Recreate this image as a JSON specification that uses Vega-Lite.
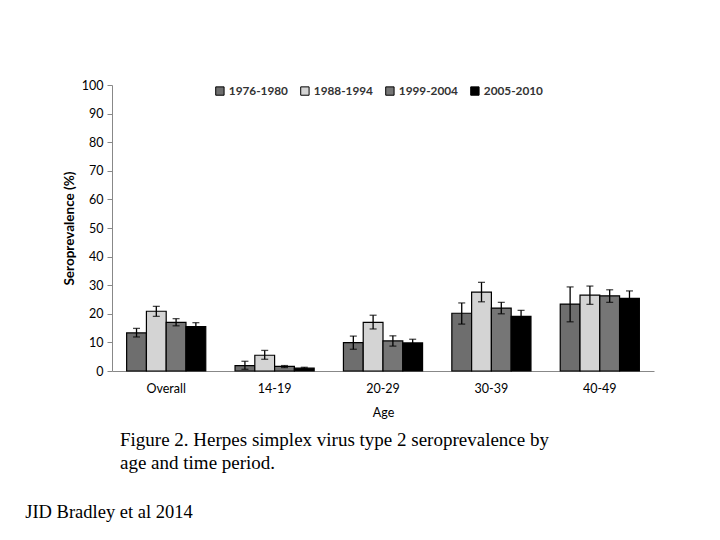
{
  "$schema": "https://vega.github.io/schema/vega-lite/v6.json",
  "background": "white",
  "padding": {"left": 25, "top": 79, "right": 5, "bottom": 5},
  "title": {"text": "JID Bradley et al 2014", "orient": "bottom", "anchor": "start", "frame": "bounds", "dx": -37, "offset": 30, "font": "Liberation Serif", "fontSize": 18.5, "fontWeight": "normal", "color": "#000"},
  "config": {"view": {"stroke": null}, "font": "Lato",
    "axisY": {"grid": false, "tickSize": 5, "labelPadding": 4, "labelFontSize": 12.5, "labelColor": "#000", "domainColor": "#888", "tickColor": "#888", "titleFontSize": 13.5, "titleFontWeight": "bold", "titleColor": "#000", "titlePadding": 5, "labelOverlap": false}},
  "vconcat": [
    {
      "width": 542,
      "height": 286,
      "title": {"text": ["Figure 2. Herpes simplex virus type 2 seroprevalence by", "age and time period."], "orient": "bottom", "anchor": "start", "frame": "group", "dx": 8, "offset": 12, "font": "Liberation Serif", "fontSize": 19, "fontWeight": "normal", "color": "#000", "lineHeight": 23},
      "data": {"values": [
        {"age": "Overall", "period": "1976-1980", "value": 13.3, "lo": 11.9, "hi": 14.9},
        {"age": "Overall", "period": "1988-1994", "value": 20.9, "lo": 19.1, "hi": 22.6},
        {"age": "Overall", "period": "1999-2004", "value": 17.0, "lo": 15.8, "hi": 18.3},
        {"age": "Overall", "period": "2005-2010", "value": 15.5, "lo": 14.3, "hi": 16.9},
        {"age": "14-19", "period": "1976-1980", "value": 1.9, "lo": 0.6, "hi": 3.4},
        {"age": "14-19", "period": "1988-1994", "value": 5.5, "lo": 4.1, "hi": 7.2},
        {"age": "14-19", "period": "1999-2004", "value": 1.6, "lo": 1.2, "hi": 1.9},
        {"age": "14-19", "period": "2005-2010", "value": 1.0, "lo": 0.7, "hi": 1.3},
        {"age": "20-29", "period": "1976-1980", "value": 9.9, "lo": 7.6, "hi": 12.2},
        {"age": "20-29", "period": "1988-1994", "value": 17.0, "lo": 14.7, "hi": 19.5},
        {"age": "20-29", "period": "1999-2004", "value": 10.5, "lo": 8.7, "hi": 12.3},
        {"age": "20-29", "period": "2005-2010", "value": 9.8, "lo": 8.5, "hi": 11.1},
        {"age": "30-39", "period": "1976-1980", "value": 20.2, "lo": 16.4, "hi": 23.8},
        {"age": "30-39", "period": "1988-1994", "value": 27.6, "lo": 24.2, "hi": 31.0},
        {"age": "30-39", "period": "1999-2004", "value": 22.0, "lo": 20.0, "hi": 24.0},
        {"age": "30-39", "period": "2005-2010", "value": 19.1, "lo": 17.2, "hi": 21.2},
        {"age": "40-49", "period": "1976-1980", "value": 23.4, "lo": 17.2, "hi": 29.4},
        {"age": "40-49", "period": "1988-1994", "value": 26.5, "lo": 23.3, "hi": 29.7},
        {"age": "40-49", "period": "1999-2004", "value": 26.3, "lo": 24.0, "hi": 28.4},
        {"age": "40-49", "period": "2005-2010", "value": 25.4, "lo": 22.9, "hi": 28.0}
      ]},
      "encoding": {
        "x": {"field": "age", "type": "nominal", "sort": ["Overall", "14-19", "20-29", "30-39", "40-49"],
          "scale": {"paddingInner": 0.27, "paddingOuter": 0.135},
          "axis": {"title": "Age", "labelAngle": 0, "labelFontSize": 12.5, "labelColor": "#000", "labelPadding": 11, "ticks": false, "domainColor": "#888", "titleFontSize": 12.5, "titleFontWeight": "normal", "titleColor": "#000", "titlePadding": 12}},
        "xOffset": {"field": "period", "type": "nominal", "scale": {"paddingInner": 0, "paddingOuter": 0}}
      },
      "layer": [
        {
          "mark": {"type": "bar", "stroke": "#000", "strokeWidth": 1.2},
          "encoding": {
            "y": {"field": "value", "type": "quantitative", "scale": {"domain": [0, 100], "nice": false},
              "axis": {"title": "Seroprevalence (%)", "values": [0,10,20,30,40,50,60,70,80,90,100]}},
            "fill": {"field": "period", "type": "nominal",
              "scale": {"domain": ["1976-1980", "1988-1994", "1999-2004", "2005-2010"], "range": ["#6e6e6e", "#d4d4d4", "#767676", "#000000"]},
              "legend": {"title": null, "orient": "none", "legendX": 102, "legendY": 0, "direction": "horizontal", "symbolType": "square", "symbolSize": 70, "symbolStrokeColor": "#000", "symbolStrokeWidth": 1, "labelFontSize": 11.8, "labelFontWeight": "bold", "labelColor": "#333", "columnPadding": 10, "labelOffset": 3}}
          }
        },
        {
          "mark": {"type": "rule", "color": "#000", "strokeWidth": 1.3},
          "encoding": {"y": {"field": "lo", "type": "quantitative", "axis": {"title": "Seroprevalence (%)", "values": [0,10,20,30,40,50,60,70,80,90,100]}}, "y2": {"field": "hi"}}
        },
        {
          "mark": {"type": "tick", "color": "#000", "thickness": 1.3, "size": 7},
          "encoding": {"y": {"field": "lo", "type": "quantitative", "axis": {"title": "Seroprevalence (%)", "values": [0,10,20,30,40,50,60,70,80,90,100]}}}
        },
        {
          "mark": {"type": "tick", "color": "#000", "thickness": 1.3, "size": 7},
          "encoding": {"y": {"field": "hi", "type": "quantitative", "axis": {"title": "Seroprevalence (%)", "values": [0,10,20,30,40,50,60,70,80,90,100]}}}
        }
      ]
    }
  ]
}
